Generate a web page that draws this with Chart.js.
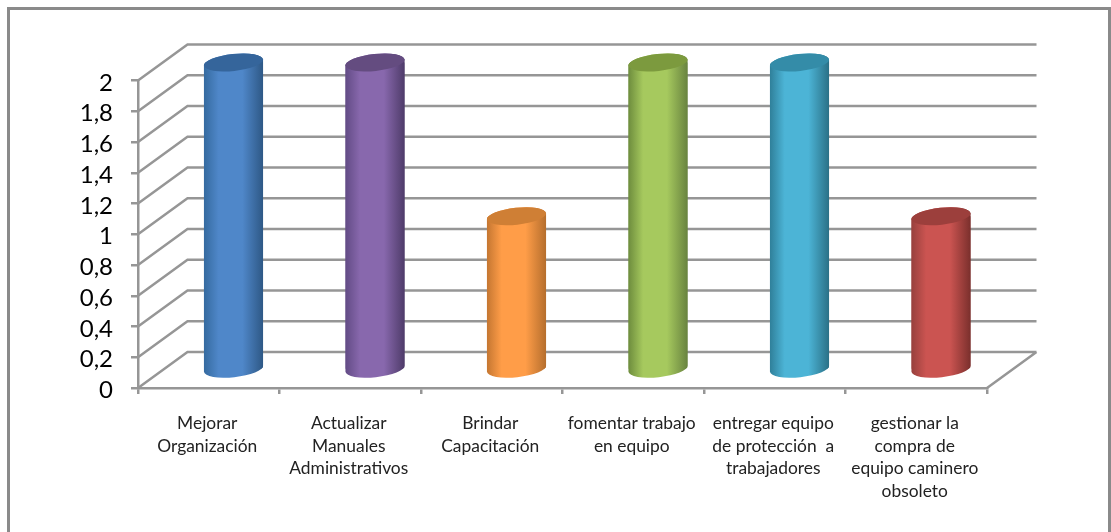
<!DOCTYPE html>
<html>
<head>
<meta charset="utf-8">
<script src="https://cdn.jsdelivr.net/npm/chart.js@4"></script>
<style>
    html, body { margin: 0; padding: 0; background: #fff; }
    .frame { position: relative; width: 1111px; height: 532px; overflow: hidden; }
    .frame canvas { position: absolute; left: 0; top: 0; }
    .edge {
        position: absolute; left: 7px; top: 7px; right: 0; bottom: -10px;
        border: 3px solid #8a8a8a; pointer-events: none;
    }
</style>
</head>
<body>
<div class="frame">
    <canvas id="myChart" width="1111" height="532"></canvas>
    <div class="edge"></div>
</div>
<script>
// Chart data
const categories = [
    ['Mejorar', 'Organización'],
    ['Actualizar', 'Manuales', 'Administrativos'],
    ['Brindar', 'Capacitación'],
    ['fomentar trabajo', 'en equipo'],
    ['entregar equipo', 'de protección  a', 'trabajadores'],
    ['gestionar la', 'compra de', 'equipo caminero', 'obsoleto']
];
const values = [2, 2, 1, 2, 2, 1];
const yTickLabels = ['0', '0,2', '0,4', '0,6', '0,8', '1', '1,2', '1,4', '1,6', '1,8', '2'];

// Cylinder shades: left edge, centre, right edge, top cap
const leftShades = ['#356a9f', '#624b85', '#c47631', '#6d8c3d', '#2f7f99', '#97403d'];
const midShades = ['#4f87c9', '#8868ad', '#ff9d48', '#a6c95e', '#4cb4d6', '#cb5451'];
const rightShades = ['#2e5885', '#4e3b69', '#b56e2d', '#68833f', '#2a7086', '#7a2f2c'];
const capShades = ['#35659b', '#644c80', '#cf7f35', '#7c9a3e', '#348ca8', '#9c3f3c'];

const gridColor = '#969696';
const gridWidth = 2.5;
const depthX = 49.5;
const depthY = 36;
const capRadiusY = 8.5;
const capTilt = -6 * Math.PI / 180;
const barShare = 0.42;

function cylinderGradient(ctx, x, halfWidth, i) {
    const g = ctx.createLinearGradient(x - halfWidth, 0, x + halfWidth, 0);
    g.addColorStop(0, leftShades[i]);
    g.addColorStop(0.25, midShades[i]);
    g.addColorStop(0.65, midShades[i]);
    g.addColorStop(1, rightShades[i]);
    return g;
}

function traceCylinder(ctx, bar) {
    const rx = bar.width / 2;
    ctx.moveTo(bar.x + rx * Math.cos(capTilt), bar.base + rx * Math.sin(capTilt));
    ctx.ellipse(bar.x, bar.base, rx, capRadiusY, capTilt, 0, Math.PI);
    ctx.ellipse(bar.x, bar.y, rx, capRadiusY, capTilt, Math.PI, 2 * Math.PI);
    ctx.closePath();
}

// Nudge a scale's labels, there is no tick option for this
function shiftLabels(scale, dx, dy) {
    const drawLabels = scale.drawLabels;
    scale.drawLabels = function(area) {
        scale.ctx.save();
        scale.ctx.translate(dx, dy);
        drawLabels.call(scale, area);
        scale.ctx.restore();
    };
}

// Draws the back wall, then wraps the library's bars into cylinders
const wallAndCylinders = {
    id: 'wallAndCylinders',
    afterLayout(chart) {
        shiftLabels(chart.scales.x, -1.5, 0);
        shiftLabels(chart.scales.y, 0, 2.5);
    },
    beforeDatasetsDraw(chart) {
        const ctx = chart.ctx;
        const { left, right } = chart.chartArea;
        const yScale = chart.scales.y;

        ctx.save();
        ctx.strokeStyle = gridColor;
        ctx.lineWidth = gridWidth;
        ctx.beginPath();
        yScale.ticks.forEach(tick => {
            const y = yScale.getPixelForValue(tick.value);
            ctx.moveTo(left, y);
            ctx.lineTo(left + depthX, y - depthY);
            ctx.lineTo(right + depthX, y - depthY);
        });
        const floorY = yScale.getPixelForValue(0);
        ctx.moveTo(right, floorY);
        ctx.lineTo(right + depthX, floorY - depthY);
        ctx.stroke();
        ctx.restore();

        const bars = chart.getDatasetMeta(0).data;
        ctx.save();
        ctx.translate(depthX / 2, -depthY / 2);
        bars.forEach((bar, i) => {
            const shade = cylinderGradient(ctx, bar.x, bar.width / 2, i);
            bar.options.backgroundColor = shade;
            ctx.beginPath();
            traceCylinder(ctx, bar);
            ctx.fillStyle = shade;
            ctx.fill();
        });
        ctx.beginPath();
        bars.forEach(bar => traceCylinder(ctx, bar));
        ctx.clip();
    },
    afterDatasetsDraw(chart) {
        const ctx = chart.ctx;
        const bars = chart.getDatasetMeta(0).data;
        ctx.restore();

        ctx.save();
        ctx.translate(depthX / 2, -depthY / 2);
        bars.forEach((bar, i) => {
            ctx.beginPath();
            ctx.ellipse(bar.x, bar.y, bar.width / 2, capRadiusY, capTilt, 0, 2 * Math.PI);
            ctx.fillStyle = capShades[i];
            ctx.fill();
        });
        ctx.restore();
    }
};

new Chart(document.getElementById('myChart'), {
    type: 'bar',
    data: {
        labels: categories,
        datasets: [{
            data: values,
            backgroundColor: midShades,
            borderWidth: 0,
            categoryPercentage: 1,
            barPercentage: barShare,
            clip: false
        }]
    },
    options: {
        responsive: false,
        animation: false,
        layout: { padding: { top: 80.5, right: 124, bottom: 0, left: 0 } },
        plugins: {
            legend: { display: false },
            tooltip: { enabled: false }
        },
        scales: {
            x: {
                afterFit: scale => { scale.height = 144; },
                border: { color: gridColor, width: gridWidth },
                grid: { drawOnChartArea: false, color: gridColor, lineWidth: gridWidth, tickLength: 6 },
                ticks: {
                    color: '#222',
                    padding: 18,
                    maxRotation: 0,
                    autoSkip: false,
                    font: { family: 'Lato', size: 17.4, lineHeight: 1.3 }
                }
            },
            y: {
                min: 0,
                max: 2,
                afterFit: scale => { scale.width = 138; },
                border: { color: gridColor, width: gridWidth },
                grid: { drawOnChartArea: false, color: gridColor, lineWidth: gridWidth, tickLength: 7 },
                ticks: {
                    stepSize: 0.2,
                    autoSkip: false,
                    color: '#000',
                    padding: 18,
                    font: { family: 'Lato', size: 24 },
                    callback: (value, index) => yTickLabels[index]
                }
            }
        }
    },
    plugins: [wallAndCylinders]
});
</script>
</body>
</html>
